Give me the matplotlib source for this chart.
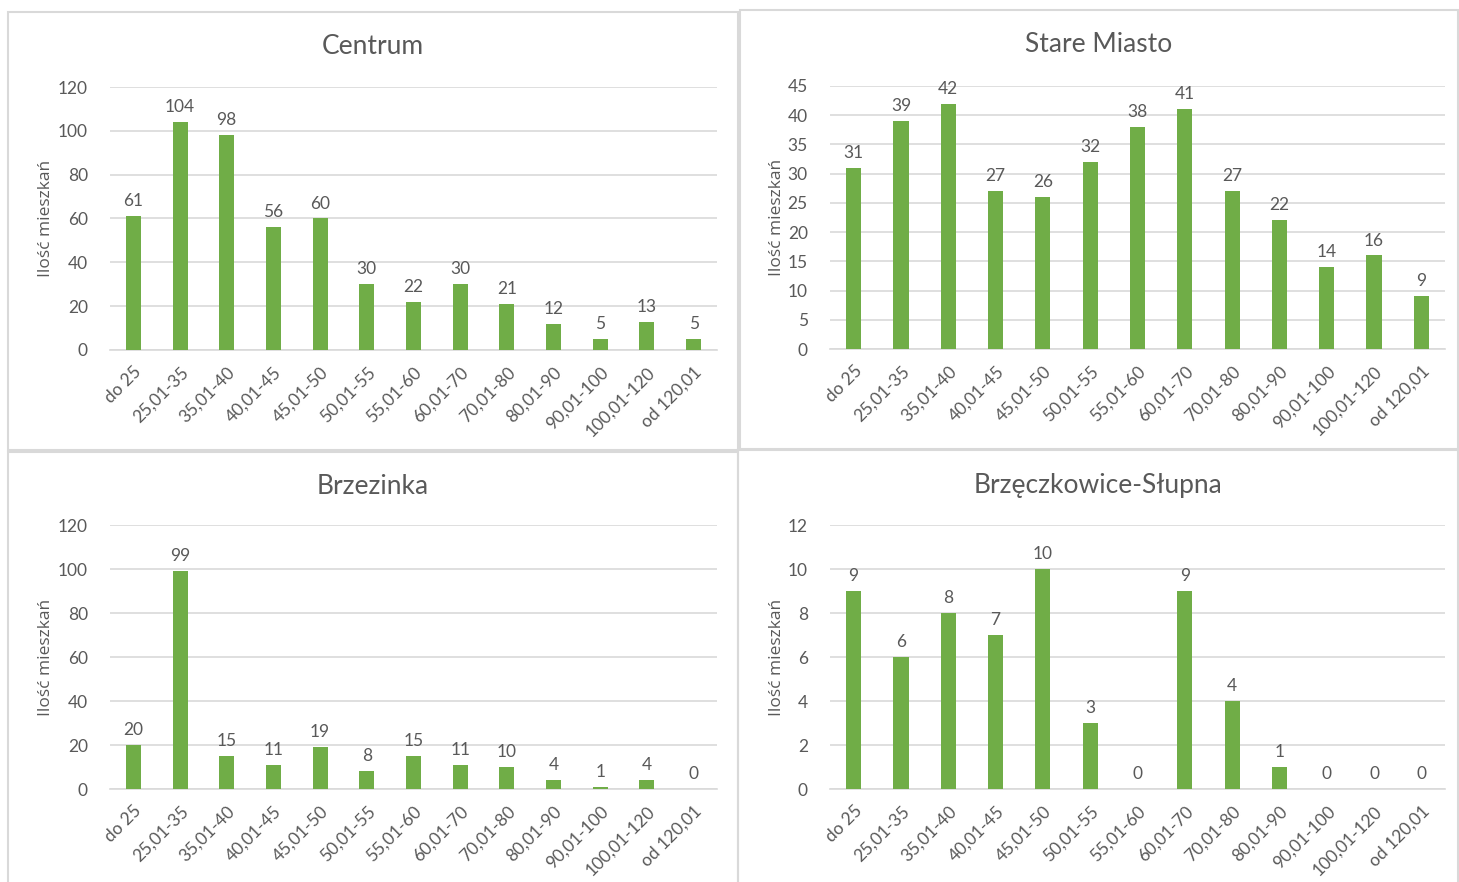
import numpy as np
import matplotlib.pyplot as plt
from matplotlib.patches import Rectangle

plt.rcParams['font.family'] = ['Lato', 'DejaVu Sans']

# Dane
categories = ['do 25', '25,01-35', '35,01-40', '40,01-45', '45,01-50', '50,01-55', '55,01-60',
              '60,01-70', '70,01-80', '80,01-90', '90,01-100', '100,01-120', 'od 120,01']
centrum = [61, 104, 98, 56, 60, 30, 22, 30, 21, 12, 5, 13, 5]
stare_miasto = [31, 39, 42, 27, 26, 32, 38, 41, 27, 22, 14, 16, 9]
brzezinka = [20, 99, 15, 11, 19, 8, 15, 11, 10, 4, 1, 4, 0]
brzeczkowice = [9, 6, 8, 7, 10, 3, 0, 9, 4, 1, 0, 0, 0]

titles = ['Centrum', 'Stare Miasto', 'Brzezinka', 'Brzęczkowice-Słupna']
series = [centrum, stare_miasto, brzezinka, brzeczkowice]
y_max = [120, 45, 120, 12]
y_step = [20, 5, 20, 2]

W, H = 1459, 882
green = '#70AD47'
grid = '#D9D9D9'
txt = '#595959'

fig = plt.figure(figsize=(W / 100, H / 100), dpi=100)

# ramki paneli (px): left, top, right, bottom
panels = [(8, 12, 738, 450), (740, 10, 1458, 449), (8, 452, 738, 890), (738, 450, 1458, 890)]
# obszary wykresu (px): left, top, right, bottom
plots = [(110, 87, 717, 350), (830, 86, 1445, 349), (110, 525, 717, 789), (830, 525, 1445, 789)]
ylab_x = [46, 777, 46, 777]

for i in range(4):
    pl, pt, pr, pb = panels[i]
    fig.patches.append(Rectangle((pl / W, 1 - pb / H), (pr - pl) / W, (pb - pt) / H,
                                 transform=fig.transFigure, fill=False, edgecolor=grid, linewidth=1.5))
    l, t, r, b = plots[i]
    ax = fig.add_axes([l / W, 1 - b / H, (r - l) / W, (b - t) / H])
    x = np.arange(len(categories))
    vals = series[i]
    ax.bar(x, vals, width=0.32, color=green, zorder=3)
    ax.set_xlim(-0.5, len(categories) - 0.5)
    ax.set_ylim(0, y_max[i])
    ax.set_yticks(np.arange(0, y_max[i] + 0.1, y_step[i]))
    ax.yaxis.grid(True, color=grid, linewidth=1.2, zorder=0)
    for s in ['top', 'right', 'left']:
        ax.spines[s].set_visible(False)
    ax.spines['bottom'].set_color(grid)
    ax.spines['bottom'].set_linewidth(1.2)
    ax.tick_params(length=0, labelsize=12.5, labelcolor=txt)
    ax.tick_params(axis='y', pad=16)
    ax.set_xticks(x)
    ax.set_xticklabels(categories, rotation=45, ha='right', rotation_mode='anchor')
    ax.tick_params(axis='x', pad=10)
    for xi, v in zip(x, vals):
        ax.annotate(str(v), (xi, v), xytext=(0, 5), textcoords='offset points',
                    ha='center', va='bottom', fontsize=12.5, color=txt)
    fig.text((pl + pr) / 2 / W, 1 - (pt + 35) / H, titles[i], ha='center', va='center',
             fontsize=19, color=txt)
    fig.text(ylab_x[i] / W, 1 - (t + b) / 2 / H, 'Ilość mieszkań', rotation=90,
             ha='center', va='center', fontsize=12.5, color=txt, family='Open Sans')

fig.savefig('out.png', dpi=100)
